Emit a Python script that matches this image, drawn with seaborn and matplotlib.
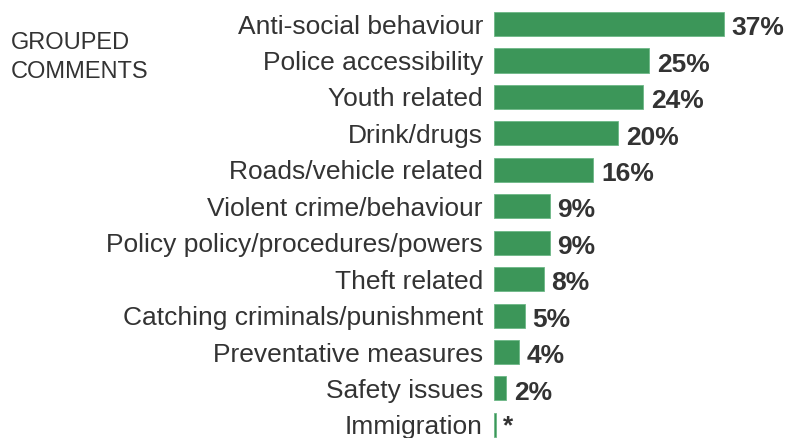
import matplotlib
matplotlib.use("Agg")
import matplotlib.pyplot as plt
import seaborn as sns
import pandas as pd

categories = [
    "Anti-social behaviour",
    "Police accessibility",
    "Youth related",
    "Drink/drugs",
    "Roads/vehicle related",
    "Violent crime/behaviour",
    "Policy policy/procedures/powers",
    "Theft related",
    "Catching criminals/punishment",
    "Preventative measures",
    "Safety issues",
    "Immigration",
]
values = [37, 25, 24, 20, 16, 9, 9, 8, 5, 4, 2, 0.25]
value_labels = ["37%", "25%", "24%", "20%", "16%", "9%", "9%", "8%", "5%", "4%", "2%", "*"]

sns.set_style("white")
plt.rcParams["font.family"] = ["Liberation Sans", "DejaVu Sans"]

df = pd.DataFrame({"category": categories, "value": values})

fig = plt.figure(figsize=(7.86, 4.38), dpi=100)
ax = fig.add_axes([494 / 786, 0.0, 1 - 494 / 786, 1.0])

bar_color = "#3c9659"
sns.barplot(data=df, x="value", y="category", orient="h", color=bar_color,
            width=0.66, edgecolor="#6cb786", linewidth=0.6, saturation=1, ax=ax)

ax.set_xlim(0, 47)
ax.set_ylim(11.36, -0.66)
ax.set_xlabel("")
ax.set_ylabel("")
ax.set_xticks([])
for s in ax.spines.values():
    s.set_visible(False)
ax.tick_params(axis="y", length=0, pad=8, labelsize=19, labelcolor="#333333")

for i, (v, lab) in enumerate(zip(values, value_labels)):
    dy = -3 if lab != "*" else -1
    ax.annotate(lab, xy=(v, i), xytext=(5.5, dy), textcoords="offset points",
                ha="left", va="center", fontsize=19, fontweight="bold",
                color="#333333", annotation_clip=False)

fig.text(11 / 786, 1 - 32 / 438, "GROUPED\nCOMMENTS", ha="left", va="top",
         fontsize=17, color="#333333", linespacing=1.4)

fig.savefig("out.png", dpi=100)
